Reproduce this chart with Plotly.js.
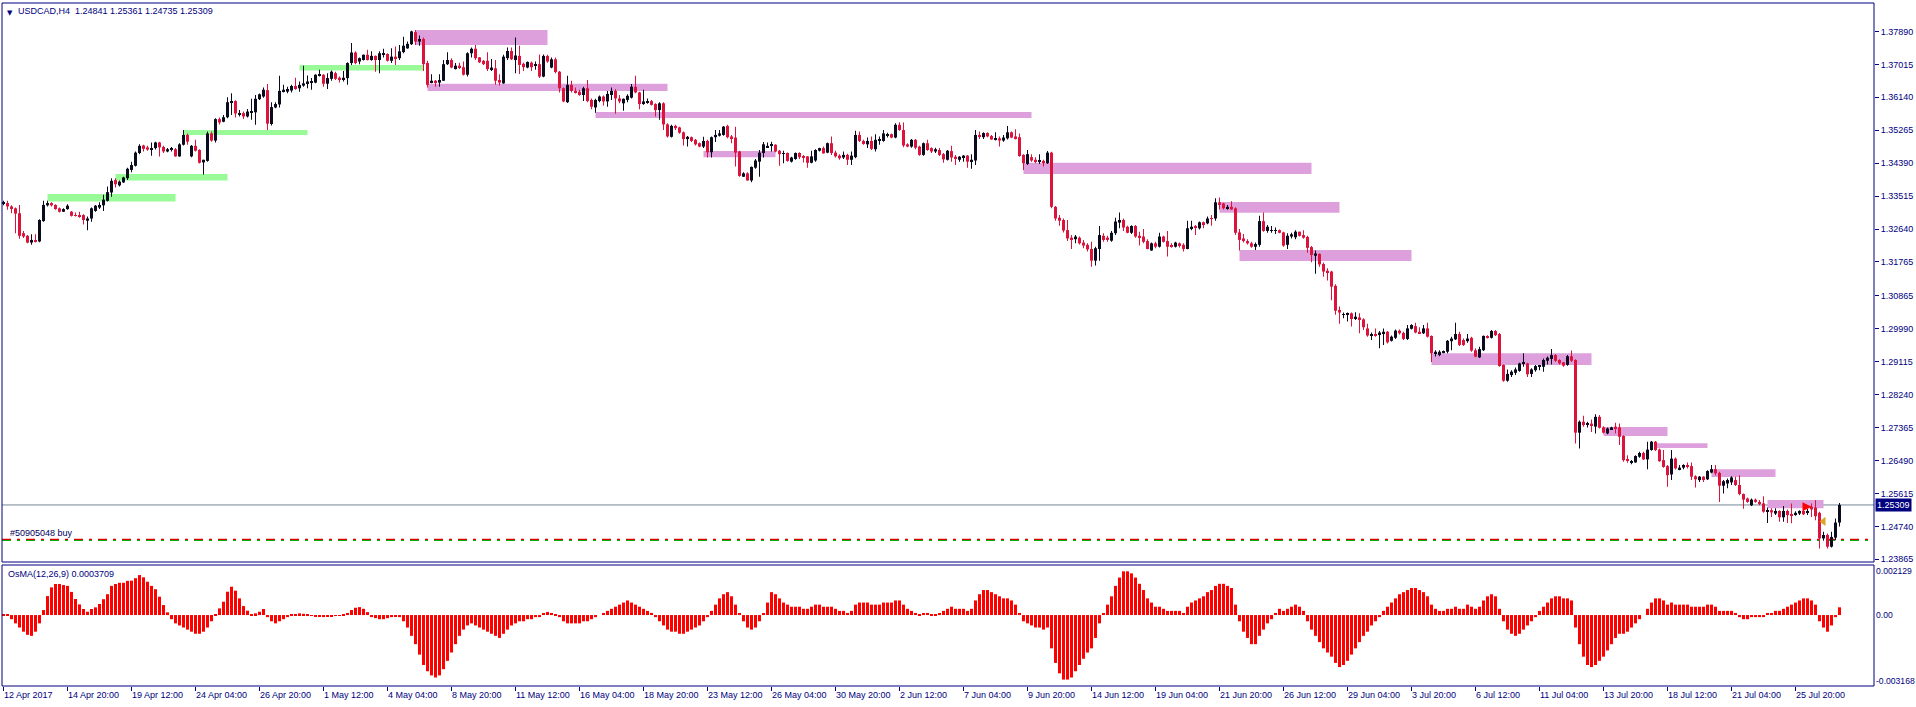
<!DOCTYPE html>
<html><head><meta charset="utf-8">
<script src="https://cdn.plot.ly/plotly-3.0.1.min.js"></script>
<style>html,body{margin:0;padding:0;background:#fff;overflow:hidden}</style>
</head><body><div id="chart" style="width:1916px;height:707px"></div>
<script>
// ---- USDCAD H4 candles (bar 0 = 12 Apr 2017 04:00) ----
const openP = [
1.3331,1.3333,1.3324,1.3319,1.3306,1.3253,1.3246,1.3228,1.3234,1.3231,
1.3285,1.3327,1.3333,1.3328,1.3319,1.3310,1.3317,1.3310,1.3301,1.3301,
1.3301,1.3286,1.3292,1.3312,1.3321,1.3327,1.3339,1.3361,1.3394,1.3380,
1.3388,1.3399,1.3421,1.3432,1.3466,1.3486,1.3481,1.3476,1.3479,1.3494,
1.3482,1.3470,1.3474,1.3476,1.3457,1.3488,1.3514,1.3457,1.3485,1.3474,
1.3441,1.3445,1.3518,1.3499,1.3556,1.3549,1.3561,1.3601,1.3604,1.3569,
1.3572,1.3563,1.3573,1.3574,1.3609,1.3616,1.3633,1.3543,1.3587,1.3595,
1.3629,1.3629,1.3632,1.3644,1.3638,1.3645,1.3651,1.3653,1.3653,1.3671,
1.3674,1.3650,1.3663,1.3678,1.3666,1.3662,1.3665,1.3705,1.3733,1.3709,
1.3713,1.3727,1.3713,1.3724,1.3713,1.3727,1.3729,1.3711,1.3722,1.3718,
1.3734,1.3744,1.3755,1.3787,1.3762,1.3769,1.3705,1.3654,1.3658,1.3653,
1.3658,1.3702,1.3713,1.3689,1.3698,1.3694,1.3674,1.3731,1.3743,1.3720,
1.3711,1.3711,1.3689,1.3691,1.3660,1.3651,1.3718,1.3737,1.3713,1.3724,
1.3703,1.3693,1.3706,1.3698,1.3702,1.3669,1.3724,1.3693,1.3715,1.3682,
1.3638,1.3601,1.3647,1.3631,1.3629,1.3620,1.3638,1.3607,1.3587,1.3604,
1.3616,1.3603,1.3620,1.3631,1.3611,1.3598,1.3607,1.3613,1.3642,1.3627,
1.3596,1.3601,1.3604,1.3596,1.3580,1.3598,1.3542,1.3509,1.3538,1.3534,
1.3521,1.3503,1.3508,1.3501,1.3492,1.3483,1.3498,1.3468,1.3508,1.3512,
1.3514,1.3538,1.3510,1.3507,1.3470,1.3403,1.3412,1.3393,1.3427,1.3443,
1.3466,1.3481,1.3485,1.3488,1.3472,1.3464,1.3466,1.3443,1.3450,1.3466,
1.3458,1.3457,1.3440,1.3446,1.3472,1.3479,1.3467,1.3492,1.3467,1.3459,
1.3454,1.3461,1.3448,1.3455,1.3514,1.3498,1.3489,1.3498,1.3476,1.3498,
1.3498,1.3512,1.3516,1.3507,1.3541,1.3527,1.3489,1.3483,1.3501,1.3483,
1.3461,1.3492,1.3479,1.3470,1.3474,1.3463,1.3448,1.3471,1.3456,1.3448,
1.3455,1.3459,1.3443,1.3446,1.3514,1.3508,1.3519,1.3511,1.3501,1.3505,
1.3499,1.3505,1.3521,1.3510,1.3508,1.3461,1.3437,1.3455,1.3448,1.3443,
1.3445,1.3439,1.3467,1.3323,1.3294,1.3288,1.3261,1.3241,1.3237,1.3241,
1.3228,1.3222,1.3211,1.3180,1.3211,1.3246,1.3241,1.3233,1.3253,1.3281,
1.3288,1.3270,1.3254,1.3272,1.3246,1.3244,1.3232,1.3207,1.3226,1.3217,
1.3244,1.3232,1.3220,1.3217,1.3226,1.3222,1.3211,1.3264,1.3272,1.3266,
1.3282,1.3279,1.3293,1.3292,1.3335,1.3332,1.3319,1.3323,1.3319,1.3255,
1.3239,1.3232,1.3226,1.3217,1.3222,1.3285,1.3259,1.3259,1.3259,1.3261,
1.3255,1.3222,1.3244,1.3242,1.3257,1.3248,1.3243,1.3216,1.3193,1.3198,
1.3171,1.3153,1.3151,1.3113,1.3049,1.3036,1.3037,1.3040,1.3026,1.3029,
1.3024,1.3000,1.2981,1.2985,1.2984,1.2985,1.2991,1.2967,1.2975,1.2994,
1.2988,1.2972,1.2999,1.3006,1.2991,1.2987,1.3000,1.2980,1.2934,1.2929,
1.2936,1.2938,1.2966,1.2971,1.2985,1.2969,1.2966,1.2975,1.2942,1.2923,
1.2942,1.2978,1.2975,1.2993,1.2985,1.2903,1.2861,1.2876,1.2882,1.2887,
1.2906,1.2907,1.2879,1.2889,1.2898,1.2898,1.2914,1.2919,1.2929,1.2916,
1.2910,1.2903,1.2926,1.2916,1.2723,1.2752,1.2745,1.2747,1.2739,1.2765,
1.2737,1.2721,1.2732,1.2739,1.2737,1.2714,1.2652,1.2643,1.2644,1.2659,
1.2669,1.2652,1.2677,1.2699,1.2678,1.2650,1.2634,1.2612,1.2654,1.2626,
1.2630,1.2637,1.2634,1.2607,1.2597,1.2606,1.2599,1.2617,1.2626,1.2616,
1.2582,1.2588,1.2591,1.2597,1.2584,1.2560,1.2548,1.2530,1.2545,1.2539,
1.2535,1.2513,1.2517,1.2508,1.2515,1.2498,1.2515,1.2506,1.2504,1.2508,
1.2515,1.2511,1.2526,1.2524,1.2510,1.2442,1.2451,1.2420,1.2444,1.24841];
const highP = [
1.3339,1.3339,1.3327,1.3321,1.3328,1.3259,1.3248,1.3250,1.3250,1.3290,
1.3339,1.3339,1.3335,1.3330,1.3321,1.3319,1.3330,1.3312,1.3308,1.3310,
1.3303,1.3297,1.3321,1.3328,1.3335,1.3355,1.3377,1.3399,1.3399,1.3393,
1.3403,1.3427,1.3443,1.3470,1.3489,1.3488,1.3485,1.3494,1.3496,1.3496,
1.3485,1.3479,1.3482,1.3479,1.3492,1.3527,1.3518,1.3487,1.3501,1.3476,
1.3448,1.3523,1.3523,1.3558,1.3560,1.3567,1.3614,1.3625,1.3606,1.3580,
1.3576,1.3583,1.3610,1.3620,1.3624,1.3640,1.3649,1.3601,1.3601,1.3671,
1.3647,1.3642,1.3647,1.3666,1.3656,1.3698,1.3672,1.3665,1.3675,1.3687,
1.3675,1.3678,1.3685,1.3682,1.3669,1.3684,1.3707,1.3758,1.3736,1.3720,
1.3728,1.3740,1.3736,1.3725,1.3736,1.3743,1.3731,1.3744,1.3749,1.3753,
1.3775,1.3762,1.3791,1.3793,1.3778,1.3773,1.3711,1.3675,1.3660,1.3675,
1.3713,1.3734,1.3718,1.3705,1.3706,1.3709,1.3734,1.3746,1.3753,1.3721,
1.3713,1.3734,1.3716,1.3713,1.3675,1.3727,1.3746,1.3746,1.3773,1.3751,
1.3706,1.3709,1.3709,1.3709,1.3728,1.3728,1.3727,1.3720,1.3720,1.3684,
1.3640,1.3671,1.3658,1.3640,1.3634,1.3642,1.3660,1.3611,1.3610,1.3619,
1.3619,1.3631,1.3640,1.3636,1.3620,1.3611,1.3622,1.3649,1.3671,1.3629,
1.3634,1.3611,1.3607,1.3598,1.3601,1.3601,1.3545,1.3541,1.3541,1.3536,
1.3523,1.3511,1.3510,1.3503,1.3494,1.3509,1.3501,1.3510,1.3527,1.3527,
1.3538,1.3541,1.3514,1.3536,1.3472,1.3415,1.3415,1.3430,1.3450,1.3474,
1.3495,1.3494,1.3496,1.3489,1.3474,1.3472,1.3467,1.3456,1.3467,1.3468,
1.3461,1.3458,1.3472,1.3476,1.3480,1.3483,1.3494,1.3510,1.3472,1.3463,
1.3470,1.3464,1.3470,1.3525,1.3523,1.3501,1.3507,1.3510,1.3516,1.3510,
1.3527,1.3520,1.3518,1.3545,1.3548,1.3547,1.3492,1.3503,1.3503,1.3485,
1.3494,1.3501,1.3481,1.3480,1.3479,1.3466,1.3474,1.3485,1.3461,1.3458,
1.3461,1.3461,1.3463,1.3527,1.3523,1.3521,1.3521,1.3514,1.3521,1.3510,
1.3514,1.3538,1.3523,1.3529,1.3518,1.3463,1.3474,1.3463,1.3455,1.3463,
1.3448,1.3471,1.3469,1.3325,1.3301,1.3292,1.3288,1.3248,1.3248,1.3244,
1.3235,1.3226,1.3230,1.3217,1.3272,1.3253,1.3246,1.3259,1.3294,1.3308,
1.3292,1.3273,1.3274,1.3275,1.3257,1.3264,1.3237,1.3228,1.3230,1.3254,
1.3246,1.3259,1.3226,1.3230,1.3228,1.3226,1.3286,1.3286,1.3275,1.3284,
1.3284,1.3297,1.3301,1.3346,1.3348,1.3334,1.3328,1.3338,1.3322,1.3264,
1.3251,1.3237,1.3230,1.3228,1.3299,1.3308,1.3275,1.3272,1.3268,1.3263,
1.3257,1.3253,1.3254,1.3261,1.3257,1.3261,1.3246,1.3219,1.3207,1.3199,
1.3175,1.3160,1.3153,1.3117,1.3058,1.3042,1.3042,1.3042,1.3043,1.3040,
1.3027,1.3012,1.2989,1.3000,1.2993,1.3000,1.2993,1.2981,1.2997,1.2997,
1.2991,1.3009,1.3011,1.3015,1.3003,1.3009,1.3015,1.2981,1.2942,1.2942,
1.2941,1.2969,1.2978,1.3015,1.2991,1.2973,1.2985,1.2978,1.2947,1.2951,
1.2981,1.2982,1.2996,1.2996,1.2988,1.2904,1.2891,1.2889,1.2896,1.2909,
1.2934,1.2909,1.2894,1.2903,1.2903,1.2920,1.2925,1.2945,1.2932,1.2918,
1.2911,1.2929,1.2941,1.2918,1.2755,1.2768,1.2752,1.2758,1.2772,1.2770,
1.2740,1.2737,1.2739,1.2749,1.2747,1.2716,1.2663,1.2650,1.2663,1.2672,
1.2672,1.2699,1.2701,1.2701,1.2681,1.2677,1.2637,1.2677,1.2657,1.2637,
1.2639,1.2644,1.2644,1.2610,1.2608,1.2607,1.2623,1.2637,1.2637,1.2619,
1.2597,1.2601,1.2607,1.2606,1.2610,1.2561,1.2551,1.2548,1.2548,1.2544,
1.2554,1.2524,1.2522,1.2522,1.2517,1.2528,1.2519,1.2535,1.2514,1.2517,
1.2519,1.2520,1.2535,1.2544,1.2513,1.2460,1.2455,1.2460,1.2495,1.25361];
const lowP = [
1.3327,1.3315,1.3306,1.3253,1.3238,1.3240,1.3226,1.3222,1.3228,1.3229,
1.3283,1.3324,1.3324,1.3315,1.3308,1.3309,1.3315,1.3297,1.3297,1.3294,
1.3276,1.3261,1.3283,1.3310,1.3317,1.3312,1.3337,1.3350,1.3374,1.3377,
1.3386,1.3394,1.3415,1.3430,1.3463,1.3470,1.3472,1.3459,1.3475,1.3457,
1.3466,1.3468,1.3470,1.3456,1.3456,1.3486,1.3488,1.3455,1.3470,1.3438,
1.3409,1.3443,1.3496,1.3494,1.3542,1.3548,1.3558,1.3567,1.3560,1.3563,
1.3556,1.3560,1.3554,1.3541,1.3607,1.3613,1.3527,1.3539,1.3585,1.3587,
1.3627,1.3625,1.3627,1.3634,1.3629,1.3642,1.3638,1.3634,1.3651,1.3669,
1.3642,1.3636,1.3658,1.3660,1.3653,1.3656,1.3647,1.3700,1.3702,1.3702,
1.3712,1.3712,1.3711,1.3682,1.3678,1.3720,1.3709,1.3705,1.3700,1.3713,
1.3731,1.3743,1.3753,1.3753,1.3751,1.3684,1.3640,1.3651,1.3642,1.3642,
1.3657,1.3700,1.3691,1.3688,1.3689,1.3672,1.3669,1.3720,1.3713,1.3705,
1.3700,1.3684,1.3684,1.3647,1.3645,1.3650,1.3713,1.3713,1.3678,1.3676,
1.3684,1.3691,1.3684,1.3687,1.3665,1.3667,1.3706,1.3691,1.3678,1.3627,
1.3601,1.3599,1.3627,1.3624,1.3618,1.3604,1.3601,1.3582,1.3573,1.3601,
1.3592,1.3589,1.3607,1.3570,1.3598,1.3578,1.3601,1.3611,1.3625,1.3582,
1.3594,1.3597,1.3592,1.3563,1.3554,1.3527,1.3507,1.3507,1.3527,1.3517,
1.3486,1.3483,1.3495,1.3486,1.3481,1.3479,1.3454,1.3454,1.3495,1.3510,
1.3512,1.3505,1.3492,1.3430,1.3403,1.3402,1.3392,1.3388,1.3424,1.3403,
1.3454,1.3479,1.3470,1.3468,1.3432,1.3439,1.3443,1.3441,1.3448,1.3450,
1.3441,1.3427,1.3439,1.3443,1.3470,1.3464,1.3465,1.3461,1.3454,1.3448,
1.3450,1.3434,1.3434,1.3452,1.3495,1.3488,1.3479,1.3474,1.3470,1.3488,
1.3496,1.3507,1.3505,1.3505,1.3525,1.3481,1.3481,1.3480,1.3476,1.3459,
1.3459,1.3472,1.3466,1.3466,1.3458,1.3440,1.3446,1.3443,1.3434,1.3443,
1.3443,1.3427,1.3424,1.3434,1.3503,1.3503,1.3508,1.3501,1.3499,1.3483,
1.3496,1.3502,1.3505,1.3502,1.3456,1.3421,1.3434,1.3443,1.3439,1.3437,
1.3430,1.3437,1.3319,1.3286,1.3273,1.3255,1.3232,1.3211,1.3226,1.3223,
1.3213,1.3204,1.3164,1.3167,1.3180,1.3230,1.3230,1.3230,1.3248,1.3266,
1.3259,1.3253,1.3251,1.3241,1.3220,1.3226,1.3210,1.3206,1.3213,1.3215,
1.3228,1.3191,1.3214,1.3215,1.3215,1.3204,1.3210,1.3261,1.3248,1.3263,
1.3266,1.3277,1.3273,1.3286,1.3316,1.3316,1.3315,1.3315,1.3248,1.3207,
1.3228,1.3223,1.3214,1.3208,1.3217,1.3257,1.3254,1.3254,1.3251,1.3253,
1.3217,1.3211,1.3239,1.3237,1.3244,1.3238,1.3201,1.3176,1.3145,1.3164,
1.3137,1.3127,1.3075,1.3036,1.3012,1.3027,1.3018,1.3005,1.3022,1.2987,
1.2996,1.2978,1.2969,1.2978,1.2947,1.2956,1.2960,1.2965,1.2972,1.2984,
1.2969,1.2969,1.2997,1.2987,1.2985,1.2985,1.2976,1.2911,1.2925,1.2926,
1.2934,1.2934,1.2942,1.2969,1.2953,1.2953,1.2962,1.2938,1.2923,1.2921,
1.2940,1.2973,1.2973,1.2980,1.2898,1.2858,1.2858,1.2871,1.2876,1.2885,
1.2898,1.2871,1.2871,1.2885,1.2889,1.2885,1.2904,1.2904,1.2911,1.2904,
1.2898,1.2901,1.2911,1.2694,1.2681,1.2739,1.2737,1.2725,1.2721,1.2734,
1.2721,1.2719,1.2730,1.2721,1.2690,1.2646,1.2643,1.2639,1.2643,1.2656,
1.2650,1.2626,1.2675,1.2674,1.2646,1.2630,1.2579,1.2597,1.2625,1.2623,
1.2626,1.2628,1.2597,1.2577,1.2592,1.2592,1.2597,1.2615,1.2610,1.2539,
1.2561,1.2575,1.2584,1.2581,1.2557,1.2521,1.2537,1.2528,1.2537,1.2530,
1.2510,1.2483,1.2499,1.2504,1.2486,1.2486,1.2483,1.2482,1.2502,1.2504,
1.2504,1.2504,1.2499,1.2490,1.2415,1.2436,1.2415,1.2418,1.2437,1.24735];
const closeP = [
1.3335,1.3324,1.3319,1.3305,1.3246,1.3244,1.3228,1.3235,1.3231,1.3288,
1.3328,1.3333,1.3327,1.3317,1.3310,1.3317,1.3326,1.3299,1.3299,1.3298,
1.3288,1.3292,1.3319,1.3326,1.3328,1.3342,1.3362,1.3392,1.3383,1.3390,
1.3401,1.3424,1.3434,1.3467,1.3485,1.3477,1.3475,1.3479,1.3494,1.3481,
1.3470,1.3476,1.3477,1.3457,1.3489,1.3514,1.3496,1.3485,1.3472,1.3440,
1.3448,1.3518,1.3499,1.3556,1.3547,1.3561,1.3601,1.3604,1.3571,1.3572,
1.3563,1.3576,1.3575,1.3610,1.3622,1.3634,1.3544,1.3588,1.3596,1.3631,
1.3634,1.3636,1.3644,1.3636,1.3647,1.3651,1.3656,1.3656,1.3674,1.3674,
1.3650,1.3665,1.3682,1.3663,1.3662,1.3666,1.3705,1.3733,1.3705,1.3718,
1.3727,1.3713,1.3724,1.3713,1.3731,1.3731,1.3711,1.3722,1.3718,1.3736,
1.3751,1.3756,1.3789,1.3762,1.3769,1.3702,1.3647,1.3658,1.3654,1.3660,
1.3702,1.3713,1.3693,1.3698,1.3693,1.3674,1.3731,1.3743,1.3718,1.3707,
1.3702,1.3689,1.3693,1.3658,1.3653,1.3722,1.3737,1.3715,1.3725,1.3700,
1.3694,1.3708,1.3694,1.3702,1.3669,1.3724,1.3709,1.3715,1.3681,1.3638,
1.3603,1.3647,1.3631,1.3627,1.3620,1.3638,1.3604,1.3589,1.3607,1.3616,
1.3603,1.3623,1.3631,1.3611,1.3603,1.3610,1.3618,1.3642,1.3627,1.3596,
1.3603,1.3604,1.3594,1.3580,1.3598,1.3542,1.3510,1.3538,1.3532,1.3520,
1.3503,1.3509,1.3498,1.3489,1.3483,1.3498,1.3468,1.3508,1.3514,1.3518,
1.3536,1.3508,1.3505,1.3467,1.3405,1.3412,1.3393,1.3429,1.3446,1.3467,
1.3489,1.3485,1.3488,1.3470,1.3463,1.3466,1.3445,1.3454,1.3466,1.3455,
1.3455,1.3440,1.3457,1.3474,1.3479,1.3465,1.3492,1.3466,1.3457,1.3452,
1.3461,1.3448,1.3459,1.3514,1.3498,1.3490,1.3498,1.3477,1.3501,1.3501,
1.3518,1.3516,1.3507,1.3541,1.3527,1.3486,1.3483,1.3501,1.3480,1.3461,
1.3492,1.3474,1.3470,1.3476,1.3461,1.3449,1.3472,1.3454,1.3450,1.3456,
1.3459,1.3443,1.3448,1.3514,1.3510,1.3519,1.3510,1.3502,1.3505,1.3499,
1.3507,1.3521,1.3507,1.3505,1.3458,1.3439,1.3463,1.3446,1.3443,1.3445,
1.3439,1.3467,1.3323,1.3292,1.3286,1.3260,1.3239,1.3237,1.3244,1.3226,
1.3220,1.3210,1.3180,1.3213,1.3248,1.3235,1.3235,1.3254,1.3284,1.3288,
1.3268,1.3254,1.3272,1.3244,1.3241,1.3230,1.3211,1.3226,1.3217,1.3244,
1.3230,1.3217,1.3217,1.3228,1.3219,1.3211,1.3266,1.3270,1.3268,1.3282,
1.3277,1.3292,1.3292,1.3335,1.3328,1.3319,1.3323,1.3316,1.3254,1.3235,
1.3232,1.3226,1.3217,1.3224,1.3285,1.3259,1.3270,1.3261,1.3261,1.3254,
1.3220,1.3246,1.3250,1.3257,1.3246,1.3241,1.3214,1.3195,1.3199,1.3170,
1.3151,1.3149,1.3111,1.3047,1.3042,1.3038,1.3040,1.3025,1.3031,1.3024,
1.3003,1.2981,1.2985,1.2982,1.2989,1.2991,1.2963,1.2978,1.2994,1.2987,
1.2972,1.3000,1.3009,1.2989,1.2987,1.3000,1.2978,1.2934,1.2938,1.2938,
1.2940,1.2967,1.2973,1.2985,1.2956,1.2956,1.2973,1.2941,1.2925,1.2945,
1.2980,1.2975,1.2993,1.2982,1.2900,1.2861,1.2879,1.2885,1.2891,1.2907,
1.2909,1.2878,1.2891,1.2900,1.2901,1.2916,1.2922,1.2929,1.2914,1.2907,
1.2901,1.2926,1.2914,1.2723,1.2752,1.2743,1.2747,1.2743,1.2765,1.2736,
1.2723,1.2734,1.2737,1.2734,1.2712,1.2650,1.2648,1.2646,1.2661,1.2669,
1.2652,1.2678,1.2699,1.2677,1.2647,1.2632,1.2610,1.2654,1.2628,1.2630,
1.2637,1.2632,1.2606,1.2599,1.2606,1.2597,1.2621,1.2626,1.2615,1.2582,
1.2594,1.2597,1.2604,1.2584,1.2560,1.2545,1.2539,1.2545,1.2539,1.2533,
1.2513,1.2517,1.2511,1.2515,1.2498,1.2515,1.2504,1.2504,1.2510,1.2515,
1.2506,1.2515,1.2519,1.2501,1.2442,1.2451,1.2420,1.2446,1.2484,1.25309];

// ---- OsMA(12,26,9) histogram ----
const osma = [
0.00005,0.00002,-0.0002,-0.0004,-0.0006,-0.0008,-0.00095,-0.001,-0.0008,-0.0004,
0.00024,0.00091,0.00133,0.00149,0.00149,0.00144,0.0014,0.00111,0.00077,0.00051,
0.00029,0.00016,0.00029,0.00037,0.00053,0.00076,0.001,0.0014,0.00149,0.00155,
0.00155,0.00164,0.00165,0.00177,0.00192,0.00181,0.0016,0.0014,0.00124,0.00088,
0.00048,0.00013,-0.0002,-0.0004,-0.0005,-0.0006,-0.0007,-0.0008,-0.0009,-0.0009,
-0.0008,-0.0006,-0.0003,0.00005,0.00032,0.00064,0.00112,0.00136,0.00117,0.0008,
0.00043,0.00021,0.00005,0.00008,0.00016,0.00029,-0.0001,-0.0003,-0.0004,-0.0003,
-0.0002,-0.0001,0.00003,0.00005,0.00008,0.00006,0.00003,-0.00003,-0.00005,-0.00008,
-0.0001,-0.00008,-0.00006,-0.00004,-0.00002,0.00003,0.0001,0.00024,0.00035,0.00038,
0.0003,0.00014,-0.0001,-0.00015,-0.0002,-0.0002,-0.00015,-0.0001,-0.00005,-0.0001,
-0.0003,-0.0006,-0.001,-0.0014,-0.0019,-0.0024,-0.0027,-0.0029,-0.003,-0.0029,
-0.0026,-0.0022,-0.0018,-0.0014,-0.001,-0.0007,-0.0005,-0.0004,-0.0005,-0.0006,
-0.0007,-0.0008,-0.0009,-0.001,-0.0011,-0.0009,-0.0007,-0.0005,-0.0004,-0.0003,
-0.0003,-0.0002,-0.0002,-0.0001,-0.0001,0.0001,0.00015,0.0001,0.00005,-0.0001,
-0.0003,-0.0004,-0.0004,-0.0004,-0.0004,-0.0003,-0.0003,-0.0002,-0.0001,0,
0.0001,0.0002,0.0003,0.0004,0.0005,0.0006,0.0007,0.0006,0.0005,0.0004,
0.0003,0.0002,0.0001,-0.0001,-0.0003,-0.0005,-0.0007,-0.0008,-0.0008,-0.0009,
-0.0009,-0.0008,-0.0007,-0.0006,-0.0005,-0.0003,-0.0001,0.0002,0.0005,0.0008,
0.001,0.0011,0.0009,0.0005,0.0001,-0.0003,-0.0006,-0.0007,-0.0006,-0.0003,
0.0001,0.0006,0.0011,0.001,0.0008,0.0006,0.0005,0.0004,0.0004,0.0004,
0.0003,0.0003,0.0004,0.0005,0.0005,0.0004,0.0004,0.0004,0.0003,0.0002,
0.0002,0.0001,0.0002,0.0005,0.0006,0.0006,0.0006,0.0005,0.0005,0.0005,
0.0006,0.0006,0.0006,0.0007,0.0007,0.0005,0.0003,0.0002,0.0001,0.00005,
0.0001,0.0001,0.00005,0.00003,0.0001,0.0002,0.0003,0.0004,0.0003,0.0003,
0.0003,0.0002,0.0003,0.0007,0.001,0.0012,0.0012,0.0011,0.001,0.0009,
0.0008,0.0008,0.0007,0.0005,0.0001,-0.0003,-0.0004,-0.0005,-0.0006,-0.0006,
-0.0007,-0.0006,-0.0016,-0.0023,-0.0028,-0.0031,-0.0031,-0.003,-0.0027,-0.0024,
-0.0021,-0.0018,-0.0016,-0.0011,-0.0004,0.0001,0.0005,0.0009,0.0014,0.0018,
0.0021,0.0021,0.002,0.0018,0.0015,0.0012,0.0008,0.0006,0.0004,0.0004,
0.0003,0.0002,0.0002,0.0002,0.0002,0.0001,0.0004,0.0006,0.0007,0.0008,
0.0009,0.0011,0.0012,0.0014,0.0015,0.0015,0.0014,0.0013,0.0005,-0.0003,
-0.0008,-0.0011,-0.0014,-0.0014,-0.001,-0.0007,-0.0004,-0.0002,0.0001,0.0003,
0.0002,0.0003,0.0004,0.0005,0.0004,0.0002,-0.0003,-0.0007,-0.001,-0.0013,
-0.0016,-0.0018,-0.002,-0.0023,-0.0025,-0.0024,-0.0022,-0.0019,-0.0016,-0.0013,
-0.001,-0.0008,-0.0005,-0.0003,-0.0001,0.0002,0.0004,0.0006,0.0008,0.001,
0.0011,0.0012,0.0013,0.0013,0.0012,0.0011,0.0009,0.0005,0.0003,0.0002,
0.0002,0.0003,0.0003,0.0004,0.0003,0.0003,0.0005,0.0004,0.0003,0.0004,
0.0007,0.0009,0.001,0.0009,0.0003,-0.0003,-0.0007,-0.0009,-0.001,-0.0009,
-0.0007,-0.0005,-0.0003,-0.0001,0.0002,0.0004,0.0006,0.0008,0.0009,0.0009,
0.0008,0.0008,0.0007,-0.0006,-0.0014,-0.002,-0.0024,-0.0025,-0.0024,-0.0022,
-0.002,-0.0017,-0.0014,-0.0011,-0.0009,-0.0009,-0.0008,-0.0006,-0.0004,-0.0002,
0,0.0003,0.0006,0.0008,0.0008,0.0007,0.0005,0.0006,0.0005,0.0005,
0.0005,0.0005,0.0004,0.0004,0.0004,0.0004,0.0005,0.0005,0.0004,0.0002,
0.0002,0.0002,0.0002,0.0001,-0.0001,-0.0002,-0.0002,-0.0001,-0.0001,-0.0001,
-0.0001,0.0001,0.0001,0.0002,0.0002,0.0003,0.0004,0.0005,0.0006,0.0007,
0.0008,0.0008,0.0007,0.0005,-0.0003,-0.0006,-0.0008,-0.0005,-0.0001,0.0003709];

// ---- time labels, one every 16 bars ----
const timeLabels = ['12 Apr 2017','14 Apr 20:00','19 Apr 12:00','24 Apr 04:00','26 Apr 20:00',
'1 May 12:00','4 May 04:00','8 May 20:00','11 May 12:00','16 May 04:00','18 May 20:00',
'23 May 12:00','26 May 04:00','30 May 20:00','2 Jun 12:00','7 Jun 04:00','9 Jun 20:00',
'14 Jun 12:00','19 Jun 04:00','21 Jun 20:00','26 Jun 12:00','29 Jun 04:00','3 Jul 20:00',
'6 Jul 12:00','11 Jul 04:00','13 Jul 20:00','18 Jul 12:00','21 Jul 04:00','25 Jul 20:00'];
const labelEvery = 16;

// ---- price scale ticks ----
const priceTicks = [1.23865,1.24740,1.25615,1.26490,1.27365,1.28240,1.29115,1.29990,
1.30865,1.31765,1.32640,1.33515,1.34390,1.35265,1.36140,1.37015,1.37890];
const oscTicks = [0.002129, 0, -0.003168];
const oscTickText = ['0.002129','0.00','-0.003168'];

// ---- supply / demand zones (bar start, bar end, top, bottom, kind) ----
const zoneStart  = [11,28,45,74,103,106,148,175,255,304,309,357,400,413,427,441];
const zoneEnd    = [43,56,76,105,136,166,257,193,327,334,352,397,416,426,443,455];
const zoneTop    = [1.3357,1.3410,1.3527,1.3700,1.3793,1.3650,1.3575,1.3471,1.3440,1.3336,1.3208,1.2934,1.2738,1.2695,1.2626,1.2544];
const zoneBottom = [1.3337,1.3393,1.3514,1.3685,1.3753,1.3631,1.3559,1.3455,1.3410,1.3307,1.3179,1.2903,1.2714,1.2682,1.2605,1.2522];
const zoneKind   = ['d','d','d','d','s','s','s','s','s','s','s','s','s','s','s','s'];

const lastPrice = 1.25309;
const orderPrice = 1.2438;
const orderLabel = '#50905048 buy';
const entryBar = [452], entryPrice = [1.2526];
const exitBar = [455], exitPrice = [1.2487];
const titleText = 'USDCAD,H4  1.24841 1.25361 1.24735 1.25309';
const oscText = 'OsMA(12,26,9) 0.0003709';

// ---------------- drawing ----------------
const NAVY = '#000080';
const FONT = 'Liberation Sans, Arial, sans-serif';
const bars = openP.map((_, i) => i);
const candleColor = openP.map((o, i) => closeP[i] >= o ? '#0b0b1e' : '#dc143c');

const wicks = {type:'bar', x:bars, base:lowP, y:highP.map((h,i)=>h-lowP[i]), width:0.25,
  marker:{color:candleColor, line:{width:0}}, xaxis:'x', yaxis:'y', hoverinfo:'skip', showlegend:false};
const bodies = {type:'bar', x:bars, base:openP.map((o,i)=>Math.min(o,closeP[i])),
  y:openP.map((o,i)=>Math.max(Math.abs(closeP[i]-o),0.00003)), width:0.75,
  marker:{color:candleColor, line:{width:0}}, xaxis:'x', yaxis:'y', hoverinfo:'skip', showlegend:false};
const osc = {type:'bar', x:bars, y:osma, width:0.75, marker:{color:'#ff0000', line:{width:0}},
  xaxis:'x2', yaxis:'y2', hoverinfo:'skip', showlegend:false};
const entry = {type:'scatter', mode:'markers', x:entryBar, y:entryPrice, xaxis:'x', yaxis:'y',
  marker:{symbol:'arrow-right', size:9, color:'#ff0000', line:{width:0}}, showlegend:false, hoverinfo:'skip'};
const exit = {type:'scatter', mode:'markers', x:exitBar, y:exitPrice, xaxis:'x', yaxis:'y',
  marker:{symbol:'triangle-left', size:8, color:'#daa520', line:{width:0}}, showlegend:false, hoverinfo:'skip'};

const plotTop = 3, plotBottom = 686, H = 707;
const mainBottomPx = 562, oscTopPx = 565;
const ph = plotBottom - plotTop;
const mainDomain = [(plotBottom - mainBottomPx)/ph, 1];
const oscDomain = [0, (plotBottom - oscTopPx)/ph];

const shapes = [];
zoneStart.forEach((s, k) => {
  shapes.push({type:'rect', xref:'x', yref:'y', x0:s, x1:zoneEnd[k], y0:zoneBottom[k], y1:zoneTop[k],
    fillcolor: zoneKind[k]==='d' ? '#98fb98' : '#dda0dd', line:{width:0}, layer:'below'});
});
shapes.push({type:'line', xref:'paper', yref:'y', x0:0, x1:1, y0:lastPrice, y1:lastPrice,
  line:{color:'#778899', width:1}, layer:'below'});
shapes.push({type:'line', xref:'paper', yref:'y', x0:0, x1:1, y0:orderPrice-0.00013, y1:orderPrice-0.00013,
  line:{color:'#00b000', width:1.2, dash:'9px,6px,3px,6px'}, layer:'below'});
shapes.push({type:'line', xref:'paper', yref:'y', x0:0, x1:1, y0:orderPrice+0.00013, y1:orderPrice+0.00013,
  line:{color:'#e00000', width:1.2, dash:'9px,6px,3px,6px'}, layer:'below'});
shapes.push({type:'rect', xref:'paper', yref:'paper', x0:0, x1:1, y0:mainDomain[0], y1:1,
  line:{color:NAVY, width:1}, fillcolor:'rgba(0,0,0,0)', layer:'above'});
shapes.push({type:'rect', xref:'paper', yref:'paper', x0:0, x1:1, y0:0, y1:oscDomain[1],
  line:{color:NAVY, width:1}, fillcolor:'rgba(0,0,0,0)', layer:'above'});

const annotations = [
  {xref:'paper', yref:'paper', x:0, y:1, xanchor:'left', yanchor:'top', xshift:3, yshift:-4,
   text:'▼', showarrow:false, font:{family:'DejaVu Sans', size:7, color:NAVY}},
  {xref:'paper', yref:'paper', x:0, y:1, xanchor:'left', yanchor:'top', xshift:14, yshift:-1,
   text:titleText, showarrow:false, font:{family:FONT, size:9, color:NAVY}},
  {xref:'paper', yref:'paper', x:0, y:oscDomain[1], xanchor:'left', yanchor:'top', xshift:4, yshift:-2,
   text:oscText, showarrow:false, font:{family:FONT, size:9, color:NAVY}},
  {xref:'paper', yref:'y', x:0, y:orderPrice, xanchor:'left', yanchor:'bottom', xshift:6, yshift:0,
   text:orderLabel, showarrow:false, font:{family:FONT, size:9, color:'#000060'}},
  {xref:'paper', yref:'y', x:1, y:lastPrice, xanchor:'left', yanchor:'middle', xshift:1,
   text:lastPrice.toFixed(5), showarrow:false, bgcolor:NAVY, borderpad:1,
   font:{family:FONT, size:9, color:'#ffffff'}}
];

const layout = {
  width:1916, height:H, margin:{l:2, r:42, t:plotTop, b:H-plotBottom, pad:0},
  paper_bgcolor:'#ffffff', plot_bgcolor:'#ffffff', barmode:'overlay', showlegend:false,
  font:{family:FONT, size:9, color:NAVY},
  xaxis:{domain:[0,1], anchor:'y', range:[-0.375, 467.625], showticklabels:false, ticks:'',
    showgrid:false, zeroline:false, showline:false, fixedrange:true},
  xaxis2:{domain:[0,1], anchor:'y2', matches:'x', range:[-0.375, 467.625],
    tickmode:'array', tickvals:timeLabels.map((_,k)=>k*labelEvery), ticktext:timeLabels,
    ticks:'outside', ticklen:4, tickcolor:NAVY, tickwidth:1, ticklabelposition:'outside right',
    tickfont:{family:FONT, size:9, color:NAVY}, showgrid:false, zeroline:false, showline:false},
  yaxis:{domain:mainDomain, anchor:'x', side:'right', range:[1.237933, 1.386452],
    tickmode:'array', tickvals:priceTicks, ticktext:priceTicks.map(v=>v.toFixed(5)),
    ticks:'outside', ticklen:4, tickcolor:NAVY, tickwidth:1,
    tickfont:{family:FONT, size:9, color:NAVY}, showgrid:false, zeroline:false, showline:false},
  yaxis2:{domain:oscDomain, anchor:'x2', side:'right', range:[-0.003408, 0.002403],
    tickmode:'array', tickvals:oscTicks, ticktext:oscTickText,
    ticks:'', ticklabelstandoff:1,
    tickfont:{family:FONT, size:8.6, color:NAVY}, showgrid:false, zeroline:false, showline:false},
  shapes:shapes, annotations:annotations
};

Plotly.newPlot('chart', [wicks, bodies, osc, entry, exit], layout, {displayModeBar:false, responsive:false});
</script></body></html>
